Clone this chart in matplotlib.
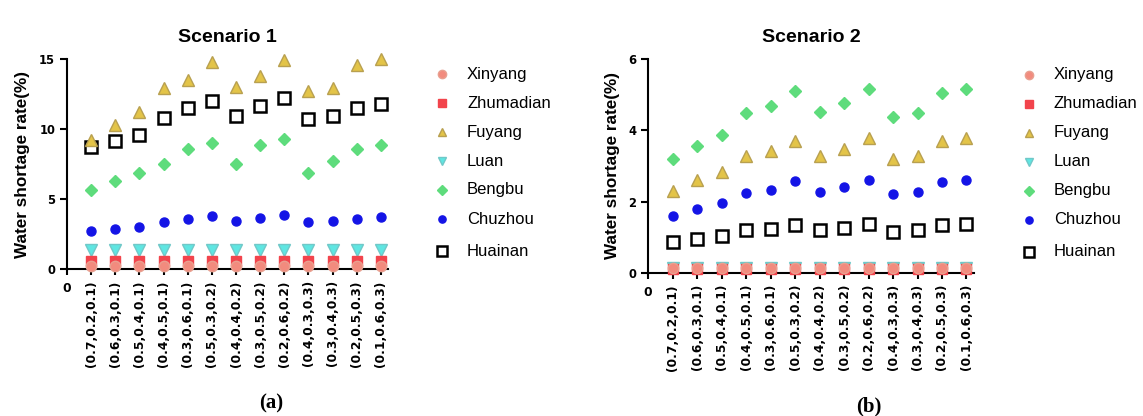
import numpy as np
import matplotlib.pyplot as plt
from matplotlib.lines import Line2D

plt.rcParams['font.family'] = ['Liberation Sans', 'DejaVu Sans']

cats = ['(0.7,0.2,0.1)', '(0.6,0.3,0.1)', '(0.5,0.4,0.1)', '(0.4,0.5,0.1)', '(0.3,0.6,0.1)',
        '(0.5,0.3,0.2)', '(0.4,0.4,0.2)', '(0.3,0.5,0.2)', '(0.2,0.6,0.2)',
        '(0.4,0.3,0.3)', '(0.3,0.4,0.3)', '(0.2,0.5,0.3)', '(0.1,0.6,0.3)']
cities = ['Xinyang', 'Zhumadian', 'Fuyang', 'Luan', 'Bengbu', 'Chuzhou', 'Huainan']

# scenario 1
xinyang1 = [0.2] * 13
zhumadian1 = [0.55] * 13
fuyang1 = [9.2, 10.3, 11.2, 12.9, 13.5, 14.8, 13.0, 13.8, 14.9, 12.7, 12.9, 14.6, 15.0]
luan1 = [1.4] * 13
bengbu1 = [5.65, 6.3, 6.9, 7.5, 8.6, 9.0, 7.5, 8.9, 9.3, 6.9, 7.75, 8.6, 8.9]
chuzhou1 = [2.75, 2.9, 3.0, 3.4, 3.6, 3.8, 3.45, 3.65, 3.85, 3.4, 3.45, 3.6, 3.7]
huainan1 = [8.7, 9.15, 9.55, 10.8, 11.5, 12.0, 10.95, 11.65, 12.2, 10.75, 10.9, 11.5, 11.8]

# scenario 2
xinyang2 = [0.15] * 13
zhumadian2 = [0.1] * 13
fuyang2 = [2.31, 2.61, 2.84, 3.28, 3.42, 3.71, 3.29, 3.47, 3.78, 3.19, 3.28, 3.7, 3.78]
luan2 = [0.15] * 13
bengbu2 = [3.19, 3.57, 3.87, 4.5, 4.67, 5.1, 4.51, 4.77, 5.17, 4.37, 4.5, 5.06, 5.17]
chuzhou2 = [1.6, 1.79, 1.95, 2.25, 2.34, 2.57, 2.27, 2.41, 2.6, 2.2, 2.27, 2.54, 2.6]
huainan2 = [0.86, 0.94, 1.03, 1.19, 1.24, 1.34, 1.19, 1.26, 1.37, 1.16, 1.19, 1.34, 1.37]

styles = {
    'Xinyang': dict(marker='o', mfc='#F28B7E', mec='#E8A090', ms=7.5),
    'Zhumadian': dict(marker='s', mfc='#F2444C', mec='#F2444C', ms=7),
    'Fuyang': dict(marker='^', mfc='#E3C448', mec='#B8A050', ms=8),
    'Luan': dict(marker='v', mfc='#5FE6E2', mec='#70C8C8', ms=8),
    'Bengbu': dict(marker='D', mfc='#5EDC7C', mec='#5EDC7C', ms=6),
    'Chuzhou': dict(marker='o', mfc='#1414E6', mec='#1414E6', ms=6.5),
    'Huainan': dict(marker='s', mfc='white', mec='black', ms=8.5, mew=1.8),
}

W, H = 1143, 416
fig = plt.figure(figsize=(W / 100, H / 100), dpi=100)
ax1 = fig.add_axes([0.0586, 0.353, 0.281, 0.505])
ax2 = fig.add_axes([0.5670, 0.344, 0.285, 0.514])

data1 = [xinyang1, zhumadian1, fuyang1, luan1, bengbu1, chuzhou1, huainan1]
data2 = [xinyang2, zhumadian2, fuyang2, luan2, bengbu2, chuzhou2, huainan2]
x = np.arange(1, 14)

panels = [(ax1, data1, 'Scenario 1', 15, [0, 5, 10, 15], 442, 74),
          (ax2, data2, 'Scenario 2', 6, [0, 2, 4, 6], 1029, 75)]
for ax, data, title, ymax, yt, legx, legy in panels:
    for k in range(len(cities)):
        st = dict(styles[cities[k]])
        ax.plot(x, data[k], linestyle='none', zorder=10 - k + (8 if k == 0 else 0),
                clip_on=False, **st)
    ax.set_xlim(0, 13.3)
    ax.set_ylim(0, ymax)
    ax.set_yticks(yt)
    ax.set_yticklabels([str(v) for v in yt], family='DejaVu Sans', fontweight='bold', fontsize=8.3)
    ax.set_xticks(np.arange(0, 14))
    ax.set_xticklabels(['0'] + cats, family='DejaVu Sans', fontweight='bold', fontsize=8.8)
    for i, lab in enumerate(ax.get_xticklabels()):
        if i > 0:
            lab.set_rotation(90)
            lab.set_va('top')
        else:
            lab.set_y(-0.01)
    ax.set_xticks([0, 5, 10], minor=True)
    ax.tick_params(axis='x', which='major', length=4, width=1.5, pad=4)
    ax.tick_params(axis='x', which='minor', length=9, width=1.5)
    ax.tick_params(axis='y', length=5, width=1.5)
    ax.spines['top'].set_visible(False)
    ax.spines['right'].set_visible(False)
    ax.spines['left'].set_linewidth(1.5)
    ax.spines['bottom'].set_linewidth(1.5)
    ax.spines['left'].set_bounds(0, ymax)
    ax.set_ylabel('Water shortage rate(%)', fontweight='bold', fontsize=12.3)
    ax.set_title(title, fontweight='bold', fontsize=14, pad=12)

    # legend, one row per city
    rows = [0, 29, 58, 87, 116, 145, 177]
    for k in range(len(cities)):
        st = dict(styles[cities[k]])
        st['ms'] = st['ms'] * 0.8
        yy = 1 - (legy + rows[k]) / H
        fig.add_artist(Line2D([legx / W], [yy], transform=fig.transFigure,
                              linestyle='none', **st))
        fig.text((legx + 25) / W, yy, cities[k], fontsize=12, va='center', ha='left')

ax1.yaxis.set_label_coords(-0.115, 0.5)
ax2.yaxis.set_label_coords(-0.086, 0.5)

fig.text(0.237, 0.018, '(a)', family='Liberation Serif', fontweight='bold', fontsize=15, ha='center')
fig.text(0.760, 0.012, '(b)', family='Liberation Serif', fontweight='bold', fontsize=15, ha='center')

fig.savefig('out.png', dpi=100)
